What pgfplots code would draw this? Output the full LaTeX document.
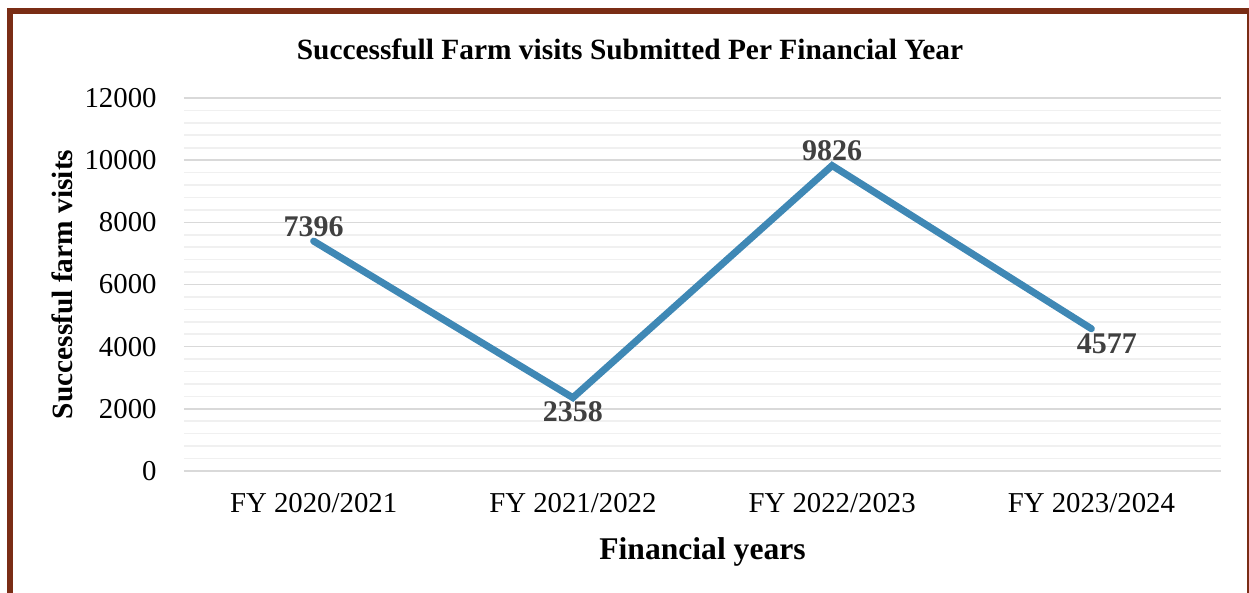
\documentclass[border=0pt]{standalone}
\usepackage{fontspec}
\setmainfont{Liberation Serif}
\usepackage{pgfplots}
\pgfplotsset{compat=1.18}
\definecolor{framebrown}{HTML}{7A2D15}
\definecolor{linecol}{HTML}{3F88B5}
\definecolor{majgrid}{HTML}{D9D9D9}
\definecolor{mingrid}{HTML}{F0F0F0}
\definecolor{lblgray}{HTML}{404040}
\begin{document}
\begin{tikzpicture}[x=1pt,y=1pt]
\useasboundingbox (0,0) rectangle (624.5,296.5);
\fill[framebrown] (3.5,0) rectangle (6.5,292.5);
\fill[framebrown] (3.5,289.5) rectangle (624.5,292.5);
\fill[framebrown] (623.3,0) rectangle (624.5,292.5);
\node[font=\bfseries\fontsize{14.7}{17}\selectfont, anchor=base, inner sep=0pt] at (315,266.5) {Successfull Farm visits Submitted Per Financial Year};
\begin{axis}[
  at={(92pt,61pt)}, anchor=south west, scale only axis,
  width=518.5pt, height=186.5pt,
  xmin=-0.5, xmax=3.5, ymin=0, ymax=12000,
  xtick={0,1,2,3},
  xticklabels={FY 2020/2021, FY 2021/2022, FY 2022/2023, FY 2023/2024},
  ytick={0,2000,...,12000}, minor y tick num=4,
  axis line style={draw=none},
  major tick length=0pt, minor tick length=0pt,
  ymajorgrids, yminorgrids,
  major grid style={majgrid, line width=0.8pt},
  minor grid style={mingrid, line width=0.8pt},
  scaled y ticks=false,
  /pgf/number format/assume math mode=true,
  /pgf/number format/1000 sep={},
  tick label style={font=\fontsize{14.4}{17}\selectfont, text=black},
  yticklabel style={inner sep=0pt, anchor=east, xshift=-13.5pt},
  xticklabel style={inner sep=0pt, anchor=north, yshift=-11pt},
  xlabel={Financial years},
  xlabel style={at={(axis description cs:0.5,0)}, anchor=base, yshift=-44.5pt, inner sep=0pt, font=\bfseries\fontsize{15.8}{18}\selectfont},
  ylabel={Successful farm visits},
  ylabel style={at={(axis description cs:-0.11765,0.5)}, anchor=center, inner sep=0pt, font=\bfseries\fontsize{14.7}{17}\selectfont},
  clip=false,
  lbl/.style={draw=none, mark=none, nodes near coords, point meta=y,
    every node near coord/.append style={inner sep=0pt, font=\bfseries\fontsize{15}{17}\selectfont, text=lblgray, #1}},
]
\addplot[linecol, line width=3.5pt, line join=miter, line cap=round]
  coordinates {(0,7396) (1,2358) (2,9826) (3,4577)};
\addplot[lbl={anchor=south, yshift=2pt}] coordinates {(0,7396) (2,9826)};
\addplot[lbl={anchor=north, yshift=-1.5pt}] coordinates {(1,2358)};
\addplot[lbl={anchor=north, yshift=-2.5pt, xshift=7.8pt}] coordinates {(3,4577)};
\end{axis}
\end{tikzpicture}
\end{document}
